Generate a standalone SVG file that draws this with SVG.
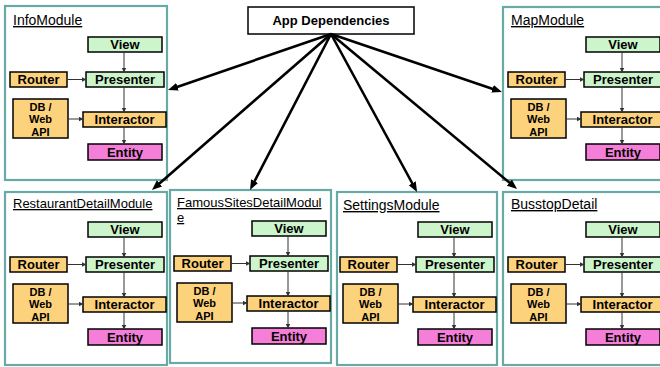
<svg xmlns="http://www.w3.org/2000/svg" width="660" height="367" viewBox="0 0 660 367">
<style>
text{font-family:"Liberation Sans",Arial,sans-serif;fill:#000}
.frame{fill:#fff;stroke:#67aaa6;stroke-width:2.2}
.title{font-size:14px;text-decoration:underline}
.t13{font-size:13px}
.g{fill:#ccf5cc;stroke:#000;stroke-width:1.5}
.o{fill:#fdd27d;stroke:#000;stroke-width:1.5}
.p{fill:#f57fd8;stroke:#000;stroke-width:1.5}
.b{font-size:13px;font-weight:bold;text-anchor:middle}
.d{font-size:11px;font-weight:bold;text-anchor:middle}
.main{stroke:#000;stroke-width:2.6;fill:none;marker-end:url(#big)}
.in{stroke:#333;stroke-width:1;fill:none;marker-end:url(#small)}
</style>
<defs>
<marker id="big" markerUnits="userSpaceOnUse" markerWidth="11" markerHeight="9" refX="2" refY="4" orient="auto"><path d="M0,0 L10,4 L0,8 z" fill="#000"/></marker>
<marker id="small" markerUnits="userSpaceOnUse" markerWidth="6" markerHeight="6" refX="4.5" refY="2.5" orient="auto"><path d="M0,0 L5,2.5 L0,5 z" fill="#333"/></marker>
</defs>
<rect width="660" height="367" fill="#fff"/>

<g id="app-dependencies">
<rect x="248" y="7" width="166" height="27" fill="#fff" stroke="#000" stroke-width="1.5"/>
<text class="b" x="331" y="25">App Dependencies</text>
</g>

<g id="InfoModule">
<rect class="frame" x="5" y="6" width="162" height="174"/>
<text class="title" x="13" y="25">InfoModule</text>
<rect class="g" x="88" y="37" width="74" height="15"/><text class="b" x="125" y="49">View</text>
<rect class="o" x="10" y="72" width="57" height="15"/><text class="b" x="38.5" y="84">Router</text>
<rect class="g" x="86" y="72" width="78" height="15"/><text class="b" x="125" y="84">Presenter</text>
<rect class="o" x="13" y="99" width="55" height="39"/><text class="d" x="40.5" y="110.5">DB /</text><text class="d" x="40.5" y="123.2">Web</text><text class="d" x="40.5" y="135.9">API</text>
<rect class="o" x="83" y="112" width="83" height="15"/><text class="b" x="124.5" y="124">Interactor</text>
<rect class="p" x="88" y="144" width="74" height="16"/><text class="b" x="125" y="157">Entity</text>
</g>

<g id="MapModule" transform="translate(498,0)">
<rect class="frame" x="5" y="7" width="162" height="173"/>
<text class="title" x="13" y="25">MapModule</text>
<rect class="g" x="88" y="37" width="74" height="15"/><text class="b" x="125" y="49">View</text>
<rect class="o" x="10" y="72" width="57" height="15"/><text class="b" x="38.5" y="84">Router</text>
<rect class="g" x="86" y="72" width="78" height="15"/><text class="b" x="125" y="84">Presenter</text>
<rect class="o" x="13" y="99" width="55" height="39"/><text class="d" x="40.5" y="110.5">DB /</text><text class="d" x="40.5" y="123.2">Web</text><text class="d" x="40.5" y="135.9">API</text>
<rect class="o" x="83" y="112" width="83" height="15"/><text class="b" x="124.5" y="124">Interactor</text>
<rect class="p" x="88" y="144" width="74" height="16"/><text class="b" x="125" y="157">Entity</text>
</g>

<g id="RestaurantDetailModule" transform="translate(0,185)">
<rect class="frame" x="5" y="7" width="162" height="173"/>
<text class="title t13" x="13" y="23">RestaurantDetailModule</text>
<rect class="g" x="88" y="37" width="74" height="15"/><text class="b" x="125" y="49">View</text>
<rect class="o" x="10" y="72" width="57" height="15"/><text class="b" x="38.5" y="84">Router</text>
<rect class="g" x="86" y="72" width="78" height="15"/><text class="b" x="125" y="84">Presenter</text>
<rect class="o" x="13" y="99" width="55" height="39"/><text class="d" x="40.5" y="110.5">DB /</text><text class="d" x="40.5" y="123.2">Web</text><text class="d" x="40.5" y="135.9">API</text>
<rect class="o" x="83" y="112" width="83" height="15"/><text class="b" x="124.5" y="124">Interactor</text>
<rect class="p" x="88" y="144" width="74" height="16"/><text class="b" x="125" y="157">Entity</text>
</g>

<g id="FamousSitesDetailModule" transform="translate(164,184)">
<rect class="frame" x="6" y="6" width="161" height="173"/>
<text class="title t13" x="13" y="23">FamousSitesDetailModul</text>
<text class="title t13" x="13" y="38">e</text>
<rect class="g" x="88" y="37" width="74" height="15"/><text class="b" x="125" y="49">View</text>
<rect class="o" x="10" y="72" width="57" height="15"/><text class="b" x="38.5" y="84">Router</text>
<rect class="g" x="86" y="72" width="78" height="15"/><text class="b" x="125" y="84">Presenter</text>
<rect class="o" x="13" y="99" width="55" height="39"/><text class="d" x="40.5" y="110.5">DB /</text><text class="d" x="40.5" y="123.2">Web</text><text class="d" x="40.5" y="135.9">API</text>
<rect class="o" x="83" y="112" width="83" height="15"/><text class="b" x="124.5" y="124">Interactor</text>
<rect class="p" x="88" y="144" width="74" height="16"/><text class="b" x="125" y="157">Entity</text>
</g>

<g id="SettingsModule" transform="translate(330,185)">
<rect class="frame" x="7" y="7" width="160" height="173"/>
<text class="title" x="13" y="25">SettingsModule</text>
<rect class="g" x="88" y="37" width="74" height="15"/><text class="b" x="125" y="49">View</text>
<rect class="o" x="10" y="72" width="57" height="15"/><text class="b" x="38.5" y="84">Router</text>
<rect class="g" x="86" y="72" width="78" height="15"/><text class="b" x="125" y="84">Presenter</text>
<rect class="o" x="13" y="99" width="55" height="39"/><text class="d" x="40.5" y="110.5">DB /</text><text class="d" x="40.5" y="123.2">Web</text><text class="d" x="40.5" y="135.9">API</text>
<rect class="o" x="83" y="112" width="83" height="15"/><text class="b" x="124.5" y="124">Interactor</text>
<rect class="p" x="88" y="144" width="74" height="16"/><text class="b" x="125" y="157">Entity</text>
</g>

<g id="BusstopDetail" transform="translate(498,185)">
<rect class="frame" x="5" y="7" width="162" height="173"/>
<text class="title" x="13" y="24">BusstopDetail</text>
<rect class="g" x="88" y="37" width="74" height="15"/><text class="b" x="125" y="49">View</text>
<rect class="o" x="10" y="72" width="57" height="15"/><text class="b" x="38.5" y="84">Router</text>
<rect class="g" x="86" y="72" width="78" height="15"/><text class="b" x="125" y="84">Presenter</text>
<rect class="o" x="13" y="99" width="55" height="39"/><text class="d" x="40.5" y="110.5">DB /</text><text class="d" x="40.5" y="123.2">Web</text><text class="d" x="40.5" y="135.9">API</text>
<rect class="o" x="83" y="112" width="83" height="15"/><text class="b" x="124.5" y="124">Interactor</text>
<rect class="p" x="88" y="144" width="74" height="16"/><text class="b" x="125" y="157">Entity</text>
</g>

<g id="connectors">
<g id="info-links">
<line class="in" x1="124" y1="52" x2="124" y2="72"/><line class="in" x1="67" y1="79.5" x2="86" y2="79.5"/><line class="in" x1="124" y1="87" x2="124" y2="112"/><line class="in" x1="68" y1="119" x2="83" y2="119"/><line class="in" x1="124" y1="127" x2="124" y2="144"/>
</g>
<g id="map-links" transform="translate(498,0)">
<line class="in" x1="124" y1="52" x2="124" y2="72"/><line class="in" x1="67" y1="79.5" x2="86" y2="79.5"/><line class="in" x1="124" y1="87" x2="124" y2="112"/><line class="in" x1="68" y1="119" x2="83" y2="119"/><line class="in" x1="124" y1="127" x2="124" y2="144"/>
</g>
<g id="restaurant-links" transform="translate(0,185)">
<line class="in" x1="124" y1="52" x2="124" y2="72"/><line class="in" x1="67" y1="79.5" x2="86" y2="79.5"/><line class="in" x1="124" y1="87" x2="124" y2="112"/><line class="in" x1="68" y1="119" x2="83" y2="119"/><line class="in" x1="124" y1="127" x2="124" y2="144"/>
</g>
<g id="famous-links" transform="translate(164,184)">
<line class="in" x1="124" y1="52" x2="124" y2="72"/><line class="in" x1="67" y1="79.5" x2="86" y2="79.5"/><line class="in" x1="124" y1="87" x2="124" y2="112"/><line class="in" x1="68" y1="119" x2="83" y2="119"/><line class="in" x1="124" y1="127" x2="124" y2="144"/>
</g>
<g id="settings-links" transform="translate(330,185)">
<line class="in" x1="124" y1="52" x2="124" y2="72"/><line class="in" x1="67" y1="79.5" x2="86" y2="79.5"/><line class="in" x1="124" y1="87" x2="124" y2="112"/><line class="in" x1="68" y1="119" x2="83" y2="119"/><line class="in" x1="124" y1="127" x2="124" y2="144"/>
</g>
<g id="busstop-links" transform="translate(498,185)">
<line class="in" x1="124" y1="52" x2="124" y2="72"/><line class="in" x1="67" y1="79.5" x2="86" y2="79.5"/><line class="in" x1="124" y1="87" x2="124" y2="112"/><line class="in" x1="68" y1="119" x2="83" y2="119"/><line class="in" x1="124" y1="127" x2="124" y2="144"/>
</g>
<line class="main" x1="331" y1="34" x2="175.6" y2="87.4"/>
<line class="main" x1="331" y1="34" x2="494.4" y2="89.4"/>
<line class="main" x1="331" y1="34" x2="158" y2="184.7"/>
<line class="main" x1="331" y1="34" x2="253.7" y2="182.9"/>
<line class="main" x1="331" y1="34" x2="413.2" y2="185"/>
<line class="main" x1="331" y1="34" x2="510.9" y2="183.9"/>
</g>
</svg>
